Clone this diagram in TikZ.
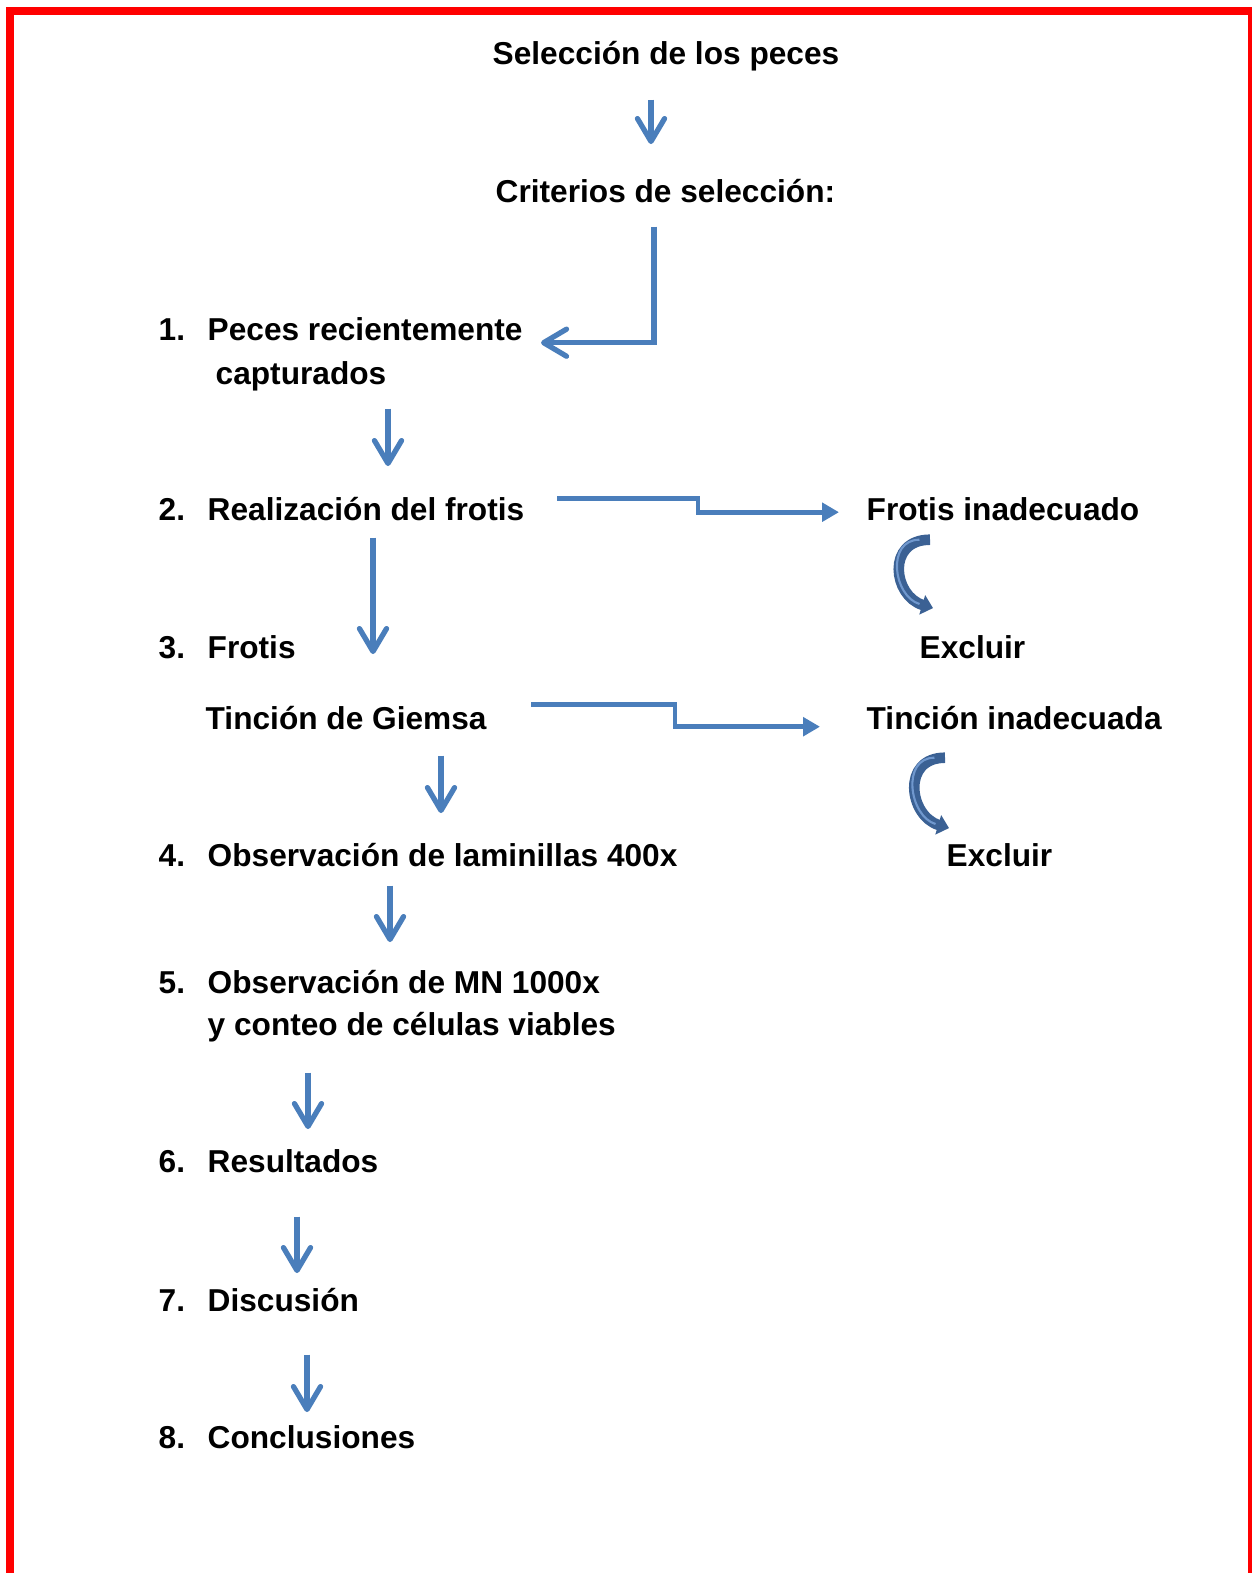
\documentclass[tikz,border=0pt]{standalone}
\usepackage{fontspec}
\setmainfont{Liberation Sans}
\usetikzlibrary{arrows.meta}
\definecolor{azul}{RGB}{74,126,187}
\definecolor{azuloscuro}{RGB}{59,97,148}
\definecolor{azulclaro}{RGB}{112,152,206}
\definecolor{rojo}{RGB}{255,0,0}

\begin{document}
\begin{tikzpicture}[x=0.01cm,y=-0.01cm,
    texto/.style={anchor=base west,inner sep=0pt,text height=6.6pt,text depth=0pt,font=\fontsize{9}{11}\selectfont\bfseries},
    flecha/.style={azul,line width=1.5pt,-{Straight Barb[length=6.5pt,width=7.7pt,round]}},
    quiebre/.style={azul,line width=1.4pt,-{Triangle[length=4.8pt,width=5.2pt]}},
    curva/.style={azuloscuro,line width=3pt,-{Triangle[length=3.2pt,width=5.6pt]},
      postaction={draw,azulclaro,line width=0.6pt,shorten >=4pt,shorten <=3pt,-}}]
                      \useasboundingbox (0,0) rectangle (1252,1573);
                      \draw[rojo,line width=2.3pt] (9.7,11.3) rectangle (1252,1640);
                      % columna central
                      \node[texto](sel)at(492,65){Selección de los peces};
                      \node[texto](crit)at(495,203){Criterios de selección:};
                      \foreach \n/\y in {1/341, 2/520, 3/658, 4/866, 5/993, 6/1172, 7/1311, 8/1448}
                        \node[texto](n\n)at(158,\y){\n.};
                      \node[texto](p1a)at(207,341){Peces recientemente};
                      \node[texto](p1b)at(215,385){capturados};
                      \node[texto](p2)at(207,520){Realización del frotis};
                      \node[texto](p3)at(207,658){Frotis};
                      \node[texto](tg)at(205,729){Tinción de Giemsa};
                      \node[texto](p4)at(207,866){Observación de laminillas 400x};
                      \node[texto](p5a)at(207,993){Observación de MN 1000x};
                      \node[texto](p5b)at(207,1035){y conteo de células viables};
                      \node[texto](p6)at(207,1172){Resultados};
                      \node[texto](p7)at(207,1311){Discusión};
                      \node[texto](p8)at(207,1448){Conclusiones};
                      % columna derecha
                      \node[texto](fi)at(866,520){Frotis inadecuado};
                      \node[texto](ex1)at(919,658){Excluir};
                      \node[texto](ti)at(866,729){Tinción inadecuada};
                      \node[texto](ex2)at(946,866){Excluir};
                      % flechas
                      \draw[flecha]([shift={(159,34)}]sel.south west)--([shift={(156,-35)}]crit.north west);
                      \draw[flecha]([shift={(159,23)}]crit.south west)|-([shift={(334,1)}]p1a.south west);
                      \draw[flecha]([shift={(173,23)}]p1b.south west)--([shift={(181,-30)}]p2.north west);
                      \draw[quiebre]([shift={(350,-22)}]p2.south west)--++(141,0)|-([shift={(-27,-8.5)}]fi.south west);
                      \draw[flecha]([shift={(166,17)}]p2.south west)--([shift={(166,20)}]p3.north west);
                      \draw[quiebre]([shift={(326,-25)}]tg.south west)--++(144,0)|-([shift={(-46,-3)}]ti.south west);
                      \draw[flecha]([shift={(236,26)}]tg.south west)--([shift={(234,-29)}]p4.north west);
                      \draw[flecha]([shift={(183,19)}]p4.south west)--([shift={(183,-27)}]p5a.north west);
                      \draw[flecha]([shift={(101,37)}]p5b.south west)--([shift={(101,-19)}]p6.north west);
                      \draw[flecha]([shift={(90,44)}]p6.south west)--([shift={(90,-14)}]p7.north west);
                      \draw[flecha]([shift={(100,43)}]p7.south west)--([shift={(100,-12)}]p8.north west);
                      % excluir
                      \draw[curva]([shift={(64,19)}]fi.south west).. controls +(-44,0) and +(-40,-12) ..([shift={(14,-26)}]ex1.north west);
                      \draw[curva]([shift={(79,28)}]ti.south west).. controls +(-44,0) and +(-40,-12) ..([shift={(3,-14)}]ex2.north west);
\end{tikzpicture}
\end{document}
